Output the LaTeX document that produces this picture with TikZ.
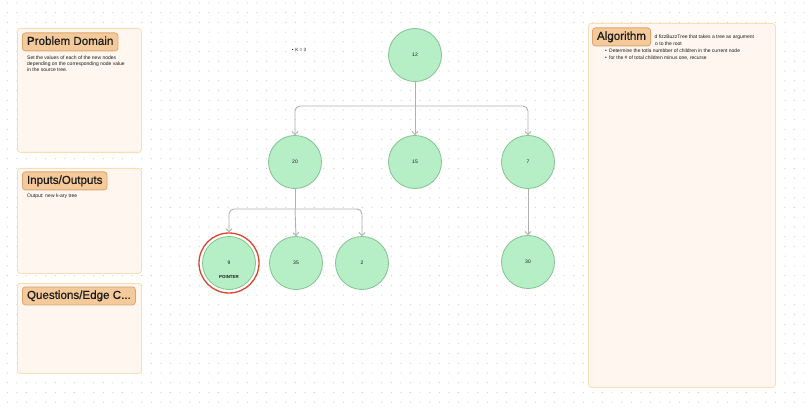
\documentclass[tikz,border=0pt]{standalone}
\usepackage{fontspec}
\setmainfont{Liberation Sans}
\newfontfamily\headfont[FakeBold=0.6]{Liberation Sans}
\usetikzlibrary{arrows.meta}

\definecolor{nodefill}{HTML}{B6EFC5}
\definecolor{nodeline}{HTML}{82C293}
\definecolor{panelfill}{HTML}{FEF6EF}
\definecolor{panelline}{HTML}{F8DDB5}
\definecolor{tagfill}{HTML}{F5CA9A}
\definecolor{tagline}{HTML}{DCA670}
\definecolor{wire}{HTML}{B0B0B0}
\definecolor{dotc}{HTML}{CDCDCD}
\definecolor{ring}{HTML}{D8462E}
\definecolor{ink}{HTML}{1A1A1A}

\tikzset{
  panel/.style={draw=panelline, fill=panelfill, line width=0.8pt,
    rounded corners=3pt, anchor=north west, inner sep=0pt},
  tag/.style={draw=tagline, fill=tagfill, line width=0.8pt, rounded corners=3pt,
    anchor=north west, font=\headfont\fontsize{11.6}{13}\selectfont, text=ink,
    text height=8.4pt, text depth=2.4pt, inner xsep=4.6pt, inner ysep=3.6pt},
  body/.style={anchor=north west, font=\fontsize{5}{6.2}\selectfont, text=ink,
    align=left, inner sep=0pt},
  tnode/.style={circle, draw=nodeline, fill=nodefill, line width=0.8pt,
    minimum size=53pt, inner sep=0pt, font=\fontsize{5}{6}\selectfont, text=ink},
  wire/.style={draw=wire, line width=0.9pt, rounded corners=5pt},
  arr/.style={wire, -{Straight Barb[length=3pt,width=6pt]}},
}

\begin{document}
\begin{tikzpicture}[x=1pt, y=-1pt]
\useasboundingbox (0,0) rectangle (809,409);
\fill[white] (0,0) rectangle (809,409);

% dotted canvas
\foreach \i in {0,...,83}{
  \foreach \j in {0,...,41}{
    \fill[dotc] (7.3+9.6*\i, 2.9+9.74*\j) circle (0.6pt);
  }
}

% left-hand panels
\node[panel, minimum width=124pt, minimum height=124pt] (pd) at (17,28) {};
\node[tag] (pdtag) at (22,32.5) {Problem Domain};
\node[body] (pdtext) at (27,55.5) {Set the values of each of the new nodes\\
depending on the corresponding node value\\in the source tree.};

\node[panel, minimum width=124pt, minimum height=105pt] (io) at (17,168) {};
\node[tag] (iotag) at (22,171.5) {Inputs/Outputs};
\node[body] (iotext) at (27,193.5) {Output: new k-ary tree};

\node[panel, minimum width=124pt, minimum height=90pt] (qe) at (17,283) {};
\node[tag] (qetag) at (22,286.5) {Questions/Edge C...};

% algorithm panel
\node[panel, minimum width=187pt, minimum height=364pt] (al) at (588,23) {};
\node[body] (al1) at (654.5,34.5) {d fizzBuzzTree that takes a tree as argument};
\node[body] (al2) at (655,41.5) {o to the root};
\node[body] (al3) at (605,48.5) {\textbullet\hspace{2.2pt}Determine the totla numbber of children in the current node};
\node[body] (al4) at (605,56) {\textbullet\hspace{2.2pt}for the \# of total children minus one, recurse};
\node[tag] (altag) at (592,27.5) {Algorithm};

% note beside the root
\node[font=\fontsize{4.6}{6}\selectfont, text=ink, inner sep=0pt] (k) at (299,50) {\textbullet\hspace{2pt}K = 3};

% tree nodes
\node[tnode] (n12) at (415,55) {12};
\node[tnode] (n20) at (295,162) {20};
\node[tnode] (n15) at (415,162) {15};
\node[tnode] (n7)  at (528,162) {7};
\node[circle, draw=ring, fill=white, line width=1.3pt, minimum size=60pt, inner sep=0pt] (ring) at (229,263) {};
\node[tnode] (n9)  at (229,263) {9};
\node[font=\fontsize{4.4}{5}\selectfont\bfseries, text=ink, inner sep=0pt] (ptr) at (229,277) {POINTER};
\node[tnode] (n35) at (296,263) {35};
\node[tnode] (n2)  at (362,263) {2};
\node[tnode] (n30) at (528,262) {30};

% connectors
\coordinate (j1) at (415,106);
\coordinate (j2) at (295,209);
\draw[wire] (n12.south) -- (j1);
\draw[arr] (j1) -| (n20.north);
\draw[arr] (j1) -- (n15.north);
\draw[arr] (j1) -| (n7.north);
\draw[wire] (n20.south) -- (j2);
\draw[arr] (j2) -| (ring.north);
\draw[arr] (j2) -- (n35.north);
\draw[arr] (j2) -| (n2.north);
\draw[arr] (n7.south) -- (n30.north);
\end{tikzpicture}
\end{document}
